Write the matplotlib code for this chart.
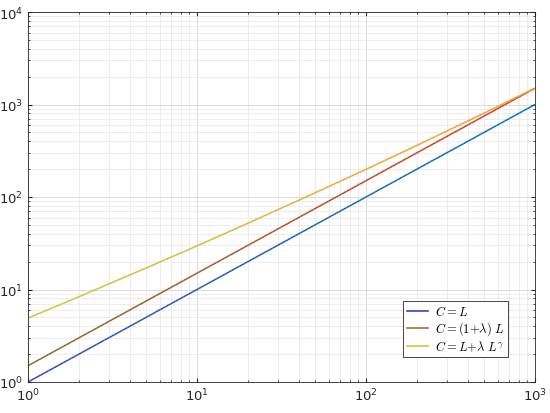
import numpy as np
import matplotlib
matplotlib.use("Agg")
import matplotlib.pyplot as plt
from matplotlib.collections import LineCollection
from matplotlib.font_manager import FontProperties
from matplotlib.lines import Line2D

L_vals = [1, 2, 5, 10, 20, 50, 100, 200, 500, 1000]
C_linear = [1, 2, 5, 10, 20, 50, 100, 200, 500, 1000]
C_scaled = [1.5, 3, 7.5, 15, 30, 75, 150, 300, 750, 1500]
C_power = [4.9, 8.35, 17.1, 29.6, 52.0, 111, 199, 361, 806, 1500]

labels = [r'$C{=}L$', r'$C{=}(1{+}\lambda)\ L$', r'$C{=}L{+}\lambda\ L^{\gamma}$']
start_colors = [(0.20, 0.27, 0.72), (0.52, 0.40, 0.16), (0.80, 0.78, 0.20)]
end_colors = [(0.00, 0.45, 0.74), (0.85, 0.22, 0.10), (0.96, 0.60, 0.16)]
legend_colors = [(0.18, 0.30, 0.72), (0.62, 0.45, 0.20), (0.85, 0.76, 0.20)]

fig = plt.figure(figsize=(5.5, 4.14), dpi=100)
ax = fig.add_axes([28/550, 1-383/414, (535-28)/550, (383-13)/414])
ax.set_xscale('log')
ax.set_yscale('log')
ax.set_xlim(1, 1000)
ax.set_ylim(1, 1e4)

for ys, c0, c1 in zip([C_linear, C_scaled, C_power], start_colors, end_colors):
    lx = np.log10(L_vals)
    ly = np.log10(ys)
    t = np.linspace(0, 1, 200)
    xi = np.interp(t * lx[-1], lx, lx)
    yi = np.interp(xi, lx, ly)
    pts = np.column_stack([10**xi, 10**yi]).reshape(-1, 1, 2)
    segs = np.concatenate([pts[:-1], pts[1:]], axis=1)
    cols = [tuple(np.array(c0) * (1 - s) + np.array(c1) * s) for s in t[:-1]]
    lc = LineCollection(segs, colors=cols, linewidths=1.1)
    ax.add_collection(lc)

ax.grid(True, which='major', color='#d6d6d6', linewidth=0.6)
ax.grid(True, which='minor', color='#e6e6e6', linewidth=0.5)
ax.set_axisbelow(True)
ax.tick_params(which='both', direction='in', top=True, right=True, colors='#262626', labelsize=9.5)
ax.tick_params(which='major', length=3)
ax.tick_params(which='minor', length=1.5)
for s in ax.spines.values():
    s.set_color('#262626')
    s.set_linewidth(0.6)

handles = [Line2D([0], [0], color=c, lw=1.2) for c in legend_colors]
leg = ax.legend(handles, labels, loc='lower right', bbox_to_anchor=(0.947, 0.068),
                borderaxespad=0,
                prop=FontProperties(size=9, math_fontfamily='cm'),
                fancybox=False, edgecolor='#262626', framealpha=1,
                handlelength=1.7, borderpad=0.3, labelspacing=0.1, handletextpad=0.5)
leg.get_frame().set_linewidth(0.6)

fig.savefig('out.png', dpi=100)
